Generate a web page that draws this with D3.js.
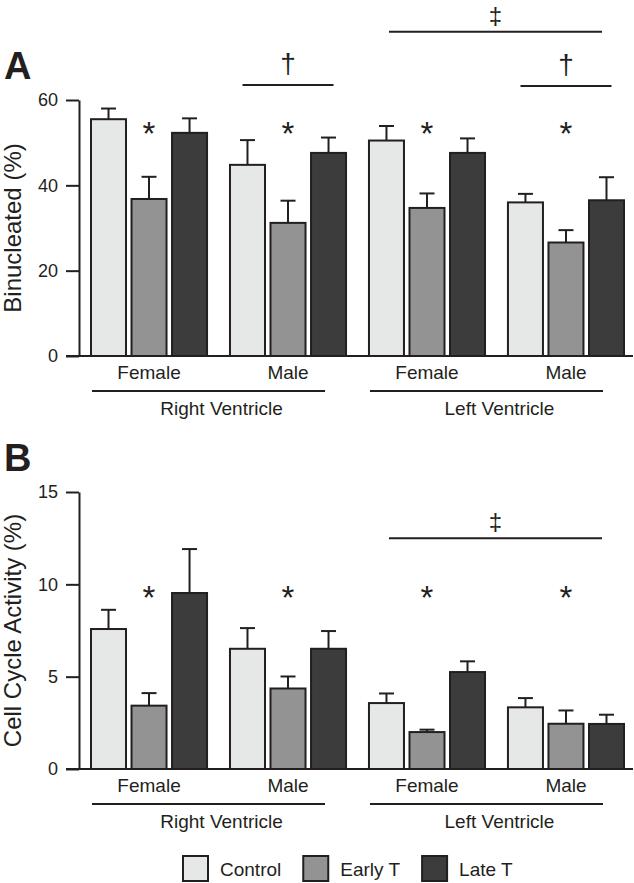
<!DOCTYPE html>
<html>
<head>
<meta charset="utf-8">
<script src="https://cdn.jsdelivr.net/npm/d3@7"></script>
<style>
  html, body { margin: 0; padding: 0; background: #fff; }
  svg { display: block; }
  text { font-family: "Liberation Sans", Arial, sans-serif; fill: #231f20; }
</style>
</head>
<body>
<svg id="chart" width="634" height="883"></svg>
<script>
// ---------- data ----------
const groups = ["Female", "Male", "Female", "Male"];
const ventricles = ["Right Ventricle", "Left Ventricle"];
const series = ["Control", "Early T", "Late T"];
const seriesColors = ["#e6e7e7", "#939393", "#3c3c3c"];

// Panel A: Binucleated (%)
const binControl = [55.5, 44.8, 50.5, 36.0];
const binControlErr = [2.5, 5.8, 3.4, 2.0];
const binEarly = [36.8, 31.2, 34.7, 26.6];
const binEarlyErr = [5.2, 5.2, 3.4, 2.9];
const binLate = [52.3, 47.6, 47.6, 36.5];
const binLateErr = [3.4, 3.6, 3.4, 5.4];
const binTicks = [0, 20, 40, 60];

// Panel B: Cell Cycle Activity (%)
const ccControl = [7.58, 6.51, 3.57, 3.34];
const ccControlErr = [1.04, 1.12, 0.52, 0.50];
const ccEarly = [3.43, 4.36, 2.00, 2.45];
const ccEarlyErr = [0.68, 0.65, 0.13, 0.72];
const ccLate = [9.53, 6.51, 5.25, 2.44];
const ccLateErr = [2.38, 0.96, 0.58, 0.50];
const ccTicks = [0, 5, 10, 15];

// significance marks: [firstGroup, lastGroup, symbol, valueLevel]
const binBrackets = [[1, 1, "\u2020", 63.5], [3, 3, "\u2020", 63.3], [2, 3, "\u2021", 76.0]];
const binStars = [0, 1, 2, 3];
const binStarLevel = 54;
const ccBrackets = [[2, 3, "\u2021", 12.5]];
const ccStars = [0, 1, 2, 3];
const ccStarLevel = 9.7;

// ---------- layout ----------
const svg = d3.select("#chart");
const ink = "#231f20";

const x0 = d3.scaleBand().domain(d3.range(groups.length)).range([91, 624]).paddingInner(0.165).paddingOuter(0);
const x1 = d3.scaleBand().domain(d3.range(series.length)).range([0, x0.bandwidth()]).paddingInner(0.136).paddingOuter(0);

function panel(opts) {
  const g = svg.append("g");
  const y = d3.scaleLinear().domain([0, opts.max]).range([opts.bottom, opts.top]);
  const axisX = 79;

  // y axis
  const ax = g.append("g").attr("transform", `translate(${axisX},0)`)
    .call(d3.axisLeft(y).tickValues(opts.ticks).tickSize(13).tickSizeOuter(0).tickPadding(8));
  ax.select(".domain").attr("stroke", ink).attr("stroke-width", 2);
  ax.selectAll(".tick line").attr("stroke", ink).attr("stroke-width", 2);
  ax.selectAll(".tick text").attr("font-size", 18).attr("fill", ink)
    .style("font-family", '"Liberation Sans", Arial, sans-serif');

  // x axis baseline
  g.append("line").attr("x1", axisX - 13).attr("x2", 633)
    .attr("y1", y(0)).attr("y2", y(0)).attr("stroke", ink).attr("stroke-width", 2);

  // y label
  g.append("text")
    .attr("transform", `translate(21,${(y(0) + y(opts.max)) / 2}) rotate(-90)`)
    .attr("text-anchor", "middle").attr("font-size", opts.labelSize)
    .text(opts.ylabel);

  // panel letter
  g.append("text").attr("x", 4).attr("y", opts.letterY)
    .attr("font-size", 38).attr("font-weight", "bold").text(opts.letter);

  // bars
  const vals = opts.values, errs = opts.errors;
  groups.forEach((grp, gi) => {
    series.forEach((s, si) => {
      const v = vals[si][gi], e = errs[si][gi];
      const bx = x0(gi) + x1(si), bw = x1.bandwidth();
      const cx = bx + bw / 2;
      g.append("line").attr("x1", cx).attr("x2", cx).attr("y1", y(v)).attr("y2", y(v + e))
        .attr("stroke", ink).attr("stroke-width", 2);
      g.append("line").attr("x1", cx - 7.5).attr("x2", cx + 7.5).attr("y1", y(v + e)).attr("y2", y(v + e))
        .attr("stroke", ink).attr("stroke-width", 2);
      g.append("rect").attr("x", bx).attr("y", y(v)).attr("width", bw).attr("height", y(0) - y(v))
        .attr("fill", seriesColors[si]).attr("stroke", ink).attr("stroke-width", 2);
    });
    g.append("text").attr("x", x0(gi) + x0.bandwidth() / 2).attr("y", y(0) + 23)
      .attr("text-anchor", "middle").attr("font-size", 19).text(grp);
  });

  // ventricle lines and labels
  ventricles.forEach((vn, vi) => {
    const a = x0(vi * 2), b = x0(vi * 2 + 1) + x0.bandwidth();
    g.append("line").attr("x1", a + 1).attr("x2", b - 21).attr("y1", y(0) + 35).attr("y2", y(0) + 35)
      .attr("stroke", ink).attr("stroke-width", 2);
    g.append("text").attr("x", (a + b) / 2 + 3).attr("y", y(0) + 59)
      .attr("text-anchor", "middle").attr("font-size", 19).text(vn);
  });

  // stars over Early T
  opts.stars.forEach(gi => {
    g.append("text").attr("x", x0(gi) + x1(1) + x1.bandwidth() / 2).attr("y", y(opts.starLevel) + 19)
      .attr("text-anchor", "middle").attr("font-size", 33).text("*");
  });

  // brackets
  opts.brackets.forEach(([ga, gb, sym, lvl]) => {
    let a, b;
    if (ga === gb) {
      const c = x0(ga) + x0.bandwidth() / 2;
      a = c - 45.5; b = c + 45.5;
    } else {
      a = x0(ga) + 20; b = x0(gb) + x0.bandwidth() - 22;
    }
    const dbl = sym === "\u2021";
    g.append("line").attr("x1", a).attr("x2", b).attr("y1", y(lvl)).attr("y2", y(lvl))
      .attr("stroke", ink).attr("stroke-width", 2);
    g.append("text").attr("x", (a + b) / 2).attr("y", y(lvl) - (dbl ? 8 : 12))
      .attr("text-anchor", "middle").attr("font-size", dbl ? 24 : 28).text(sym);
  });
}

panel({
  max: 60, top: 100, bottom: 356, ticks: binTicks,
  values: [binControl, binEarly, binLate], errors: [binControlErr, binEarlyErr, binLateErr],
  ylabel: "Binucleated (%)", labelSize: 24, letter: "A", letterY: 79,
  stars: binStars, starLevel: binStarLevel, brackets: binBrackets
});

panel({
  max: 15, top: 492, bottom: 769, ticks: ccTicks,
  values: [ccControl, ccEarly, ccLate], errors: [ccControlErr, ccEarlyErr, ccLateErr],
  ylabel: "Cell Cycle Activity (%)", labelSize: 24, letter: "B", letterY: 471,
  stars: ccStars, starLevel: ccStarLevel, brackets: ccBrackets
});

// legend
const legend = svg.append("g");
let lx = 183;
series.forEach((s, i) => {
  legend.append("rect").attr("x", lx).attr("y", 856).attr("width", 25).attr("height", 25)
    .attr("fill", seriesColors[i]).attr("stroke", ink).attr("stroke-width", 2);
  const t = legend.append("text").attr("x", lx + 37).attr("y", 876).attr("font-size", 19).text(s);
  lx = lx + 37 + t.node().getComputedTextLength() + 22;
});
</script>
</body>
</html>
